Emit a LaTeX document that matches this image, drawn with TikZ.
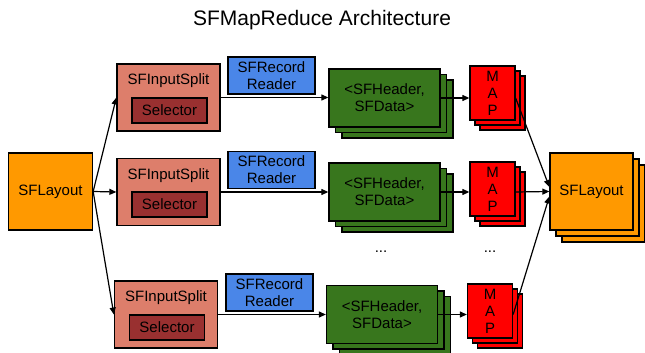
\documentclass[tikz,border=0pt]{standalone}
\usepackage{fontspec}
\setmainfont{Liberation Sans}
\usetikzlibrary{shadows,arrows.meta,calc}
\definecolor{layc}{RGB}{255,153,0}
\definecolor{isc}{RGB}{221,126,107}
\definecolor{selc}{RGB}{153,48,48}
\definecolor{rrc}{RGB}{74,134,232}
\definecolor{grc}{RGB}{56,118,29}
\definecolor{mapc}{RGB}{255,0,0}
\begin{document}
\begin{tikzpicture}[x=1pt,y=-1pt,
  box/.style={draw=black, line width=1.3pt, rectangle, inner sep=0pt, align=center, font=\fontsize{15}{17}\selectfont},
  txt/.style={inner sep=0pt, align=center, font=\fontsize{15}{17}\selectfont},
  layoutbox/.style={box, fill=layc, minimum width=84pt, minimum height=77pt},
  isbox/.style={box, fill=isc, minimum width=103pt, minimum height=67pt},
  selbox/.style={box, fill=selc, minimum width=75pt, minimum height=25pt},
  rrbox/.style={box, fill=rrc, minimum width=87pt, minimum height=37pt},
  grbox/.style={box, fill=grc, minimum width=111pt, minimum height=58pt,
    copy shadow={shadow xshift=13pt, shadow yshift=-11pt},
    copy shadow={shadow xshift=6.5pt, shadow yshift=-5.5pt}},
  mapbox/.style={box, fill=mapc, minimum width=45pt, minimum height=54pt,
    copy shadow={shadow xshift=10pt, shadow yshift=-10pt},
    copy shadow={shadow xshift=5pt, shadow yshift=-5pt}},
  rlayoutbox/.style={layoutbox, minimum width=83pt,
    copy shadow={shadow xshift=12pt, shadow yshift=-12pt},
    copy shadow={shadow xshift=6pt, shadow yshift=-6pt}},
  conn/.style={-{Triangle[length=7pt,width=6pt]}, line width=1.2pt}
]
\useasboundingbox (0,0) rectangle (645,353);

\node[txt, font=\fontsize{21}{24}\selectfont] (title) at (322,20) {SFMapReduce Architecture};

\node[layoutbox] (L) at (50.5,191.5) {SFLayout};

% input splits
\node[isbox] (IS1) at (168.5,97.5) {};
\node[txt] (IS1t) at (168.5,81) {SFInputSplit};
\node[selbox] (S1) at (169.5,110.5) {Selector};
\node[isbox] (IS2) at (168.5,192) {};
\node[txt] (IS2t) at (168.5,175.5) {SFInputSplit};
\node[selbox] (S2) at (169.5,204.5) {Selector};
\node[isbox] (IS3) at (166,314.5) {};
\node[txt] (IS3t) at (166,298) {SFInputSplit};
\node[selbox] (S3) at (167,327.5) {Selector};

% record readers
\node[rrbox] (RR1) at (271.5,75.5) {SFRecord\\Reader};
\node[rrbox] (RR2) at (271.5,170) {SFRecord\\Reader};
\node[rrbox] (RR3) at (269.5,292.5) {SFRecord\\Reader};

% green stacks
\node[grbox] (G1) at (384.5,98) {<SFHeader,\\SFData>};
\node[grbox] (G2) at (384.5,192) {<SFHeader,\\SFData>};
\node[grbox] (G3) at (382,314.5) {<SFHeader,\\SFData>};

% map stacks
\node[mapbox] (M1) at (492.5,93) {M\\A\\P};
\node[mapbox] (M2) at (492.5,189) {M\\A\\P};
\node[mapbox] (M3) at (490,311) {M\\A\\P};

% right layout
\node[rlayoutbox] (R) at (591.5,191.5) {SFLayout};

% dots
\node[txt] (d1) at (381,252) {...};
\node[txt] (d2) at (490,252) {...};

% connectors
\draw[conn] (L.east) -- (IS1.west);
\draw[conn] (L.east) -- (IS2.west);
\draw[conn] (L.east) -- (IS3.west);
\draw[conn] (IS1.east) -- (IS1.east -| G1.west);
\draw[conn] (IS2.east) -- (IS2.east -| G2.west);
\draw[conn] (IS3.east) -- (IS3.east -| G3.west);
\draw[conn] (G1.east) -- (G1.east -| M1.west);
\draw[conn] (G2.east) -- (G2.east -| M2.west);
\draw[conn] (G3.east) -- (G3.east -| M3.west);
\draw[conn] (M1.east |- G1.east) -- ($(R.west)+(0,-4.5)$);
\draw[conn] (M2.east |- G2.east) -- (R.west);
\draw[conn] (M3.east |- G3.east) -- ($(R.west)+(0,5)$);
\end{tikzpicture}
\end{document}
